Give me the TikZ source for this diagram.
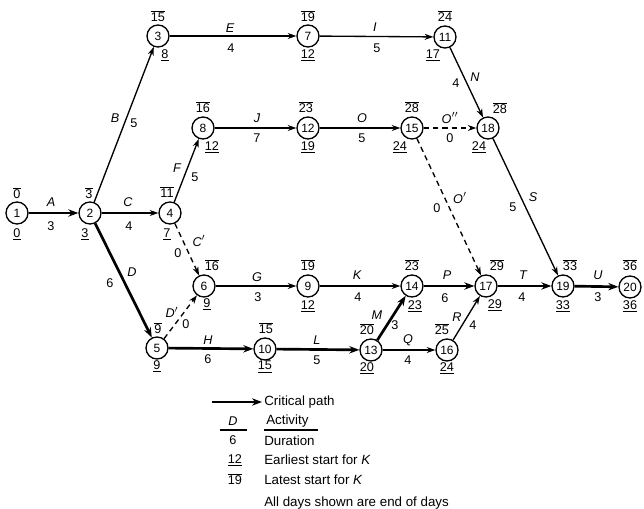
\documentclass[tikz,border=0pt]{standalone}
\usepackage{fontspec}
\setmainfont{Liberation Sans}
\usetikzlibrary{arrows.meta}
\newcommand{\ovl}[1]{$\overline{\mbox{#1}}$}
\newcommand{\unl}[1]{\underline{#1}}
\begin{document}
\begin{tikzpicture}[x=0.75pt,y=-0.75pt,
  ev/.style={circle,draw,line width=1pt,minimum size=16.5pt,inner sep=0pt,font=\fontsize{9}{9}\selectfont},
  lbl/.style={inner sep=0pt,font=\fontsize{9.5}{10}\selectfont},
  act/.style={inner sep=0pt,font=\fontsize{9.5}{10}\selectfont\itshape},
  leg/.style={inner sep=0pt,anchor=west,font=\fontsize{10}{11}\selectfont},
  arr/.style={line width=1pt,-{Stealth[length=6.5pt,width=4.5pt]}},
  crit/.style={line width=2pt,-{Stealth[length=7.5pt,width=5.5pt]}},
  dum/.style={arr,dash pattern=on 4pt off 3pt},
]
\useasboundingbox (0,0) rectangle (644,509);

% events
\node[ev] (n1) at (17,213) {1};
\node[ev] (n2) at (90,213) {2};
\node[ev] (n3) at (158,36) {3};
\node[ev] (n4) at (170,213) {4};
\node[ev] (n5) at (157,348) {5};
\node[ev] (n6) at (204,286) {6};
\node[ev] (n7) at (308,36) {7};
\node[ev] (n8) at (203,128) {8};
\node[ev] (n9) at (308,286) {9};
\node[ev] (n10) at (265,349) {10};
\node[ev] (n11) at (445,37) {11};
\node[ev] (n12) at (308,128) {12};
\node[ev] (n13) at (371,350) {13};
\node[ev] (n14) at (412,286) {14};
\node[ev] (n15) at (412,128) {15};
\node[ev] (n16) at (447,350) {16};
\node[ev] (n17) at (486,286) {17};
\node[ev] (n18) at (488,128) {18};
\node[ev] (n19) at (563,286) {19};
\node[ev] (n20) at (630,287) {20};

% latest (overlined)
\node[lbl] (l1) at (17,193) {\ovl{0}};
\node[lbl] (l2) at (89,193) {\ovl{3}};
\node[lbl] (l3) at (158,16) {\ovl{15}};
\node[lbl] (l4) at (167,192) {\ovl{11}};
\node[lbl] (l5) at (158,328) {\ovl{9}};
\node[lbl] (l6) at (212,265) {\ovl{16}};
\node[lbl] (l7) at (308,16) {\ovl{19}};
\node[lbl] (l8) at (203,107) {\ovl{16}};
\node[lbl] (l9) at (308,265) {\ovl{19}};
\node[lbl] (l10) at (266,328) {\ovl{15}};
\node[lbl] (l11) at (445,16) {\ovl{24}};
\node[lbl] (l12) at (306,107) {\ovl{23}};
\node[lbl] (l13) at (367,329) {\ovl{20}};
\node[lbl] (l14) at (412,265) {\ovl{23}};
\node[lbl] (l15) at (412,107) {\ovl{28}};
\node[lbl] (l16) at (442,329) {\ovl{25}};
\node[lbl] (l17) at (497,265) {\ovl{29}};
\node[lbl] (l18) at (500,108) {\ovl{28}};
\node[lbl] (l19) at (570,265) {\ovl{33}};
\node[lbl] (l20) at (630,265) {\ovl{36}};

% earliest (underlined)
\node[lbl] (e1) at (17,234) {\unl{0}};
\node[lbl] (e2) at (85,234) {\unl{3}};
\node[lbl] (e3) at (165,55) {\unl{8}};
\node[lbl] (e4) at (167,234) {\unl{7}};
\node[lbl] (e5) at (157,366) {\unl{9}};
\node[lbl] (e6) at (207,304) {\unl{9}};
\node[lbl] (e7) at (308,55) {\unl{12}};
\node[lbl] (e8) at (212,147) {\unl{12}};
\node[lbl] (e9) at (308,306) {\unl{12}};
\node[lbl] (e10) at (265,367) {\unl{15}};
\node[lbl] (e11) at (433,55) {\unl{17}};
\node[lbl] (e12) at (308,147) {\unl{19}};
\node[lbl] (e13) at (367,368) {\unl{20}};
\node[lbl] (e14) at (415,306) {\unl{23}};
\node[lbl] (e15) at (400,147) {\unl{24}};
\node[lbl] (e16) at (447,368) {\unl{24}};
\node[lbl] (e17) at (495,305) {\unl{29}};
\node[lbl] (e18) at (479,147) {\unl{24}};
\node[lbl] (e19) at (563,306) {\unl{33}};
\node[lbl] (e20) at (630,306) {\unl{36}};

% activities
\draw[crit] (n1) -- (n2);
\draw[arr] (n2) -- (n3);
\draw[arr] (n2) -- (n4);
\draw[crit] (n2) -- (n5);
\draw[arr] (n3) -- (n7);
\draw[arr] (n4) -- (n8);
\draw[dum] (n4) -- (n6);
\draw[dum] (n5) -- (n6);
\draw[arr] (n6) -- (n9);
\draw[crit] (n5) -- (n10);
\draw[arr] (n7) -- (n11);
\draw[arr] (n8) -- (n12);
\draw[arr] (n9) -- (n14);
\draw[crit] (n10) -- (n13);
\draw[crit] (n13) -- (n14);
\draw[arr] (n11) -- (n18);
\draw[arr] (n12) -- (n15);
\draw[dum] (n15) -- (n18);
\draw[dum] (n15) -- (n17);
\draw[crit] (n14) -- (n17);
\draw[arr] (n13) -- (n16);
\draw[arr] (n16) -- (n17);
\draw[arr] (n18) -- (n19);
\draw[crit] (n17) -- (n19);
\draw[crit] (n19) -- (n20);

% activity labels
\node[act] (tA) at (51,202) {A};   \node[lbl] (dA) at (51,226) {3};
\node[act] (tB) at (115,118) {B};  \node[lbl] (dB) at (134,123) {5};
\node[act] (tC) at (128,202) {C};  \node[lbl] (dC) at (129,226) {4};
\node[act] (tD) at (132,272) {D};  \node[lbl] (dD) at (110,283) {6};
\node[act] (tE) at (230,28) {E};   \node[lbl] (dE) at (231,48) {4};
\node[act] (tF) at (177,168) {F};  \node[lbl] (dF) at (195,177) {5};
\node[act] (tCp) at (199,241) {C$'$}; \node[lbl] (dCp) at (178,253) {0};
\node[act] (tDp) at (172,312) {D$'$}; \node[lbl] (dDp) at (186,324) {0};
\node[act] (tG) at (257,277) {G};  \node[lbl] (dG) at (258,297) {3};
\node[act] (tH) at (208,340) {H};  \node[lbl] (dH) at (208,359) {6};
\node[act] (tI) at (375,27) {I};   \node[lbl] (dI) at (377,48) {5};
\node[act] (tJ) at (257,118) {J};  \node[lbl] (dJ) at (257,138) {7};
\node[act] (tK) at (357,275) {K};  \node[lbl] (dK) at (358,297) {4};
\node[act] (tL) at (317,340) {L};  \node[lbl] (dL) at (317,360) {5};
\node[act] (tM) at (377,315) {M};  \node[lbl] (dM) at (395,325) {3};
\node[act] (tN) at (475,77) {N};   \node[lbl] (dN) at (456,83) {4};
\node[act] (tO) at (362,118) {O};  \node[lbl] (dO) at (362,138) {5};
\node[act] (tOpp) at (450,118) {O$''$}; \node[lbl] (dOpp) at (450,138) {0};
\node[act] (tOp) at (460,198) {O$'$}; \node[lbl] (dOp) at (437,208) {0};
\node[act] (tP) at (447,275) {P};  \node[lbl] (dP) at (445,298) {6};
\node[act] (tQ) at (408,340) {Q};  \node[lbl] (dQ) at (408,360) {4};
\node[act] (tR) at (457,317) {R};  \node[lbl] (dR) at (473,325) {4};
\node[act] (tS) at (533,197) {S};  \node[lbl] (dS) at (513,207) {5};
\node[act] (tT) at (523,275) {T};  \node[lbl] (dT) at (522,297) {4};
\node[act] (tU) at (598,275) {U};  \node[lbl] (dU) at (598,297) {3};

% legend
\coordinate (la) at (212,402);
\coordinate (lb) at (262,402);
\draw[crit] (la) -- (lb);
\node[leg] (lcp) at (264,402) {Critical path};
\node[act] (lD) at (233,421) {D};
\draw[line width=1pt] (220,430) -- (247,430);
\node[lbl] (l6d) at (233,440) {6};
\node[leg] (lact) at (266,421) {Activity};
\draw[line width=1pt] (264,430) -- (318,430);
\node[leg] (ldur) at (264,441) {Duration};
\node[lbl] (l12) at (235,460) {\unl{12}};
\node[leg] (lear) at (264,460) {Earliest start for \textit{K}};
\node[lbl] (l19) at (235,479) {\ovl{19}};
\node[leg] (llat) at (264,480) {Latest start for \textit{K}};
\node[leg] (lall) at (264,503) {All days shown are end of days};
\end{tikzpicture}
\end{document}
